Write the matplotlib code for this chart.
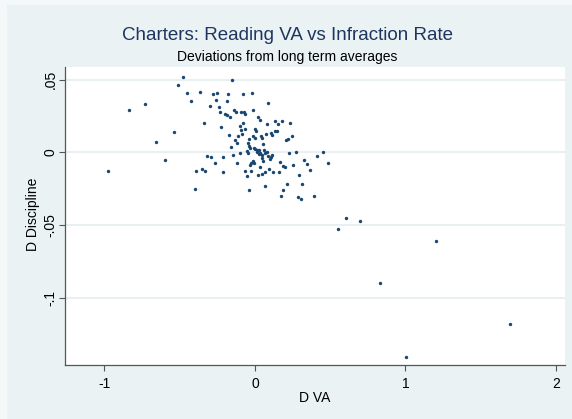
import matplotlib
matplotlib.use("Agg")
import matplotlib.pyplot as plt
from matplotlib.patches import Rectangle

plt.rcParams['font.family'] = ['Liberation Sans', 'DejaVu Sans']

d_va = [-0.48, -0.509, -0.454, -0.367, -0.425, -0.279, -0.25, -0.259, -0.301, -0.241,
        -0.234, -0.733, -0.837, -0.339, -0.54, -0.659, -0.598, -0.978, -0.319, -0.292,
        -0.268, -0.39, -0.354, -0.33, -0.4, -0.153, -0.179, -0.08, -0.02, -0.186,
        0.088, -0.137, -0.128, -0.091, -0.075, -0.066, -0.011, -0.197, -0.188, -0.166,
        0.022, 0.033, -0.078, -0.224, -0.098, -0.064, -0.093, 0.002, 0.009, 0.082,
        0.131, 0.179, 0.155, 0.235, 0.135, 0.144, 0.104, 0.115, 0.075, 0.038,
        0.044, -0.013, -0.002, -0.038, -0.049, -0.111, -0.084, -0.175, -0.133, -0.117,
        0.055, 0.206, 0.221, 0.244, -0.157, -0.038, -0.033, -0.049, -0.051, 0.0,
        0.011, 0.024, 0.033, 0.068, 0.077, 0.048, 0.048, 0.084, 0.106, 0.113,
        0.098, -0.102, -0.144, -0.21, -0.215, -0.122, -0.033, -0.025, -0.015, -0.005,
        0.033, 0.051, -0.069, -0.055, -0.025, 0.018, 0.048, 0.066, 0.095, 0.122,
        0.157, 0.164, 0.186, 0.197, 0.228, 0.27, 0.252, 0.327, 0.343, 0.29,
        0.365, 0.412, 0.452, 0.487, 0.064, -0.04, 0.215, 0.186, 0.173, 0.314,
        0.286, 0.303, 0.392, 0.606, 0.699, 0.551, 1.204, 0.828, 1.693, 1.003,
        0.015, 0.028, 0.062, -0.008]
d_disc = [0.052, 0.0463, 0.0408, 0.0417, 0.0353, 0.0399, 0.0408, 0.0358, 0.0316, 0.0312,
          0.0277, 0.0334, 0.0289, 0.0199, 0.014, 0.0073, -0.0053, -0.0127, -0.0025, -0.0035,
          -0.0076, -0.0127, -0.0113, -0.0127, -0.0255, 0.0495, 0.0399, 0.0399, 0.0408, 0.0353,
          0.0339, 0.0289, 0.0279, 0.0279, 0.0275, 0.0261, 0.0293, 0.0261, 0.0254, 0.0241,
          0.0241, 0.0224, 0.0199, 0.0174, 0.0181, 0.016, 0.0151, 0.016, 0.0149, 0.0193,
          0.0215, 0.0215, 0.0193, 0.0204, 0.0149, 0.0149, 0.0131, 0.0119, 0.0124, 0.0112,
          0.010, 0.011, 0.010, 0.0091, 0.0064, 0.0114, 0.0124, 0.0119, 0.0087, 0.0064,
          0.0059, 0.0083, 0.009, 0.0112, 0.0039, 0.0043, 0.003, -0.0007, 0.0009, 0.0021,
          0.0004, 0.0014, -0.0007, -0.0007, 0.0, -0.0021, -0.0039, -0.0025, -0.003, -0.0021,
          -0.0044, -0.0007, -0.0021, -0.003, -0.0135, -0.0076, -0.0089, -0.0076, -0.0058, -0.0072,
          -0.0103, -0.0058, -0.0131, -0.0163, -0.0131, -0.0154, -0.0149, -0.0135, -0.0113, -0.0135,
          -0.0135, -0.0069, -0.0094, -0.0099, -0.0003, 0.0004, -0.0089, -0.0053, -0.008, -0.0156,
          -0.0122, -0.0025, 0.0, -0.0076, -0.023, -0.0261, -0.022, -0.0257, -0.030, -0.0216,
          -0.0307, -0.0321, -0.030, -0.0452, -0.047, -0.0525, -0.061, -0.0901, -0.1183, -0.1408,
          0.0018, -0.0012, 0.0016, 0.0028]

x_ticks = [-1, 0, 1, 2]
x_ticklabels = ["-1", "0", "1", "2"]
y_ticks = [0.05, 0, -0.05, -0.1]
y_ticklabels = [".05", "0", "-.05", "-.1"]

W, H = 572, 419
fig = plt.figure(figsize=(W / 100, H / 100), dpi=100)
fig.patch.set_facecolor('#f4f8f9')
fig.patches.append(Rectangle((7 / W, 0), 1, 1 - 5 / H, transform=fig.transFigure,
                             facecolor='#eaf2f3', edgecolor='none', zorder=-10))

ax = fig.add_axes([65 / W, 1 - 365 / H, (565 - 65) / W, (365 - 67) / H])
ax.set_facecolor('white')
ax.scatter(d_va, d_disc, s=6, color='#1a476f', linewidths=0, zorder=3)

ax.set_xlim(-1.262, 2.06)
ax.set_ylim(-0.1463, 0.0587)
ax.set_xticks(x_ticks)
ax.set_xticklabels(x_ticklabels)
ax.set_yticks(y_ticks)
ax.set_yticklabels(y_ticklabels, rotation=90, va='center')
ax.grid(axis='y', color='#e6eff1', lw=1.3, zorder=0)
ax.grid(axis='x', visible=False)
for s in ['top', 'right']:
    ax.spines[s].set_visible(False)
for s in ['left', 'bottom']:
    ax.spines[s].set_color('#555555')
    ax.spines[s].set_linewidth(0.9)
ax.tick_params(axis='both', length=4.5, width=0.8, color='#555555', labelsize=10, labelcolor='black')
ax.tick_params(axis='x', pad=4)
ax.tick_params(axis='y', pad=1)

fig.text(287 / W, 1 - 35 / H, "Charters: Reading VA vs Infraction Rate", ha='center', va='center',
         fontsize=13.5, color='#1e3560')
fig.text(287 / W, 1 - 57 / H, "Deviations from long term averages", ha='center', va='center',
         fontsize=10, color='black')
fig.text(315 / W, 1 - 398 / H, "D VA", ha='center', va='center', fontsize=10, color='black')
fig.text(33 / W, 1 - 214 / H, "D Discipline", ha='center', va='center', rotation=90,
         fontsize=10, color='black')

fig.savefig("out.png", dpi=100, facecolor=fig.get_facecolor())
